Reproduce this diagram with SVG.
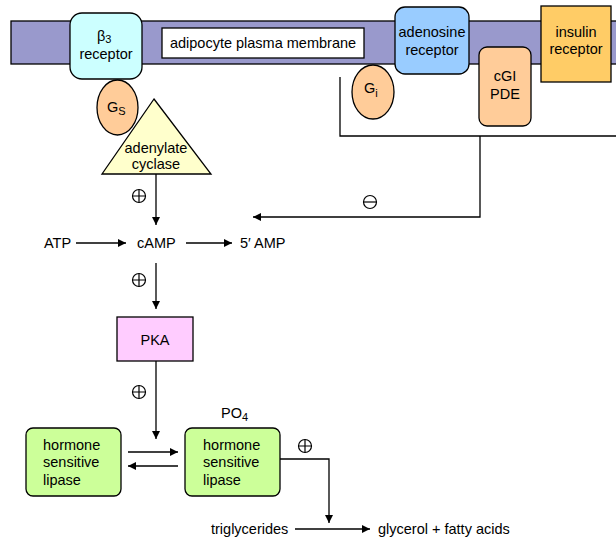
<svg xmlns="http://www.w3.org/2000/svg" width="616" height="542" viewBox="0 0 616 542">
  <defs>
    <marker id="arrow" viewBox="0 0 10 10" refX="10" refY="5" markerWidth="8" markerHeight="8" markerUnits="userSpaceOnUse" orient="auto">
      <path d="M0,0 L10,5 L0,10 z" fill="#000"/>
    </marker>
    <symbol id="plus" viewBox="-8 -8 16 16" overflow="visible">
      <circle r="6.5" fill="none" stroke="#000" stroke-width="1.2"/>
      <path d="M-6.5,0 H6.5 M0,-6.5 V6.5" stroke="#000" stroke-width="1.2"/>
    </symbol>
    <symbol id="minus" viewBox="-8 -8 16 16" overflow="visible">
      <circle r="6.5" fill="none" stroke="#000" stroke-width="1.2"/>
      <path d="M-6.5,0 H6.5" stroke="#000" stroke-width="1.2"/>
    </symbol>
  </defs>
  <style>
    text { font-family: "Liberation Sans", Arial, sans-serif; font-size: 14.5px; fill: #000; }
    .c { text-anchor: middle; }
    .sub { font-size: 11px; }
    .edge { stroke: #000; stroke-width: 1.3; fill: none; }
    .box { stroke: #000; stroke-width: 1.3; }
  </style>

  <rect width="616" height="542" fill="#fff"/>

  <!-- plasma membrane band -->
  <g id="membrane">
    <rect x="11" y="21" width="620" height="43" fill="#9999cc" class="box"/>
    <rect x="162" y="28" width="202" height="30" fill="#fff" class="box"/>
    <text x="263" y="48" class="c">adipocyte plasma membrane</text>
  </g>

  <!-- connectors -->
  <g id="connectors">
    <!-- inhibition path from Gi / cGI PDE / insulin receptor -->
    <path class="edge" d="M340,77 V136 H616"/>
    <path class="edge" d="M480,136 V217 H253" marker-end="url(#arrow)"/>
    <!-- adenylate cyclase to cAMP -->
    <path class="edge" d="M156,174 V225" marker-end="url(#arrow)"/>
    <!-- ATP to cAMP to 5'AMP -->
    <path class="edge" d="M76,243 H126" marker-end="url(#arrow)"/>
    <path class="edge" d="M186,243 H232" marker-end="url(#arrow)"/>
    <!-- cAMP to PKA -->
    <path class="edge" d="M156,263 V309" marker-end="url(#arrow)"/>
    <!-- PKA down to lipase phosphorylation -->
    <path class="edge" d="M156,361 V439" marker-end="url(#arrow)"/>
    <!-- reversible phosphorylation -->
    <path class="edge" d="M128,452 H178" marker-end="url(#arrow)"/>
    <path class="edge" d="M178,466 H128" marker-end="url(#arrow)"/>
    <!-- active lipase acting on triglycerides -->
    <path class="edge" d="M280,459 H329 V523" marker-end="url(#arrow)"/>
    <path class="edge" d="M295,529 H370" marker-end="url(#arrow)"/>
  </g>

  <!-- sign symbols -->
  <g id="signs">
    <use href="#minus" x="362" y="194" width="16" height="16"/>
    <use href="#plus" x="131" y="188" width="16" height="16"/>
    <use href="#plus" x="131" y="272" width="16" height="16"/>
    <use href="#plus" x="131" y="384" width="16" height="16"/>
    <use href="#plus" x="297" y="438" width="16" height="16"/>
  </g>

  <g id="beta3-receptor">
    <rect x="70" y="13" width="72" height="66" rx="12" fill="#ccffff" class="box"/>
    <text x="97" y="41">β<tspan class="sub" dy="2">3</tspan></text>
    <text x="106" y="59" class="c">receptor</text>
  </g>

  <g id="gs">
    <ellipse cx="117.5" cy="107.5" rx="20.5" ry="27.5" fill="#ffcc99" class="box"/>
    <text x="107" y="112">G<tspan class="sub" dy="3">S</tspan></text>
  </g>

  <g id="adenylate-cyclase">
    <polygon points="154,99 211,174 102,174" fill="#ffffcc" class="box"/>
    <text x="156" y="153" class="c">adenylate</text>
    <text x="156" y="169" class="c">cyclase</text>
  </g>

  <g id="adenosine-receptor">
    <rect x="395" y="7" width="74" height="67" rx="10" fill="#99ccff" class="box"/>
    <text x="432" y="37" class="c">adenosine</text>
    <text x="432" y="55" class="c">receptor</text>
  </g>

  <g id="gi">
    <ellipse cx="373" cy="92" rx="21" ry="27" fill="#ffcc99" class="box"/>
    <text x="364" y="93">G<tspan class="sub" dy="4">i</tspan></text>
  </g>

  <g id="cgi-pde">
    <rect x="479" y="47" width="52" height="79" rx="8" fill="#ffcc99" class="box"/>
    <text x="505" y="81" class="c">cGI</text>
    <text x="505" y="99" class="c">PDE</text>
  </g>

  <g id="insulin-receptor">
    <rect x="541" y="6" width="70" height="76" fill="#ffcc66" class="box"/>
    <text x="576" y="37" class="c">insulin</text>
    <text x="576" y="54" class="c">receptor</text>
  </g>

  <g id="atp"><text x="44" y="248">ATP</text></g>
  <g id="camp"><text x="137" y="248">cAMP</text></g>
  <g id="amp5"><text x="240" y="248">5′ AMP</text></g>

  <g id="pka">
    <rect x="117" y="317" width="76" height="44" fill="#ffccff" class="box"/>
    <text x="155" y="345" class="c">PKA</text>
  </g>

  <g id="hsl-inactive">
    <rect x="26" y="428" width="95" height="68" rx="7" fill="#ccff99" class="box"/>
    <text x="43" y="450">hormone</text>
    <text x="43" y="467">sensitive</text>
    <text x="43" y="485">lipase</text>
  </g>

  <g id="hsl-active">
    <text x="221" y="418">PO<tspan class="sub" dy="3">4</tspan></text>
    <rect x="185" y="428" width="95" height="68" rx="7" fill="#ccff99" class="box"/>
    <text x="203" y="450">hormone</text>
    <text x="203" y="467">sensitive</text>
    <text x="203" y="485">lipase</text>
  </g>

  <g id="triglycerides"><text x="211" y="534">triglycerides</text></g>
  <g id="products"><text x="378" y="534">glycerol + fatty acids</text></g>
</svg>
